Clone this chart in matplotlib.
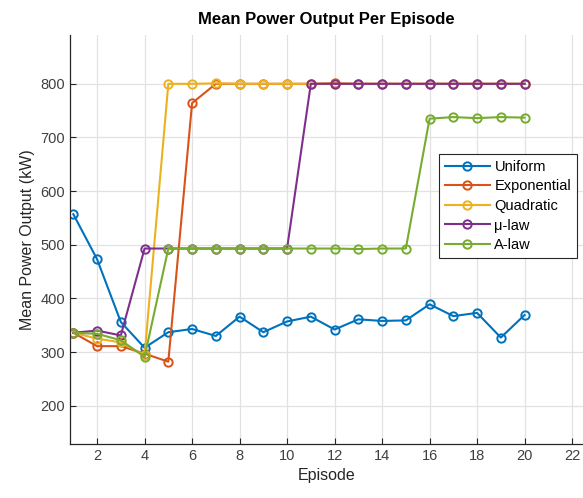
import numpy as np
import matplotlib
matplotlib.use("Agg")
import matplotlib.pyplot as plt

plt.rcParams['font.family'] = ['Liberation Sans', 'DejaVu Sans']

# mean power output (kW) for each quantisation scheme, episodes 1..20
episodes = list(range(1, 21))
uniform = [557, 473, 356, 308, 337, 343, 330, 366, 337, 357,
           366, 342, 361, 358, 359, 389, 367, 373, 327, 369]
exponential = [336, 311, 311, 297, 282, 764, 800, 800, 800, 800,
               800, 801, 800, 800, 800, 800, 800, 800, 800, 800]
quadratic = [336, 325, 318, 294, 800, 800, 801, 800, 800, 800,
             800, 800, 800, 800, 800, 800, 800, 800, 800, 800]
mu_law = [336, 340, 331, 493, 493, 493, 493, 493, 493, 493,
          800, 800, 800, 800, 800, 800, 800, 800, 800, 800]
a_law = [336, 334, 322, 291, 493, 493, 493, 493, 493, 493,
         493, 493, 492, 493, 493, 735, 738, 736, 738, 737]

names = ["Uniform", "Exponential", "Quadratic", "\u03bc-law", "A-law"]
colors = ["#0072BD", "#D95319", "#EDB120", "#7E2F8E", "#77AC30"]
series = [uniform, exponential, quadratic, mu_law, a_law]

fig = plt.figure(figsize=(5.83, 4.98), dpi=100)
ax = fig.add_axes([70 / 583, 1 - 444 / 498, 513 / 583, 409 / 498])

for vals, name, c in zip(series, names, colors):
    ax.plot(episodes, vals, color=c, lw=1.5, marker='o', ms=6,
            mfc='none', mew=1.4, label=name)

ax.set_xlim(0.86, 22.46)
ax.set_ylim(128.6, 891)
ax.set_xticks(np.arange(2, 23, 2))
ax.set_yticks(np.arange(200, 801, 100))
ax.grid(True, color='#e2e2e2', lw=0.9)
ax.set_axisbelow(True)
for s in ['top', 'right']:
    ax.spines[s].set_visible(False)
for s in ['left', 'bottom']:
    ax.spines[s].set_color('#262626')
    ax.spines[s].set_linewidth(0.9)
ax.tick_params(direction='in', length=4, width=0.8, colors='#262626',
               labelsize=10.5, labelcolor='#404040')

ax.set_xlabel("Episode", fontsize=11.5, color='#262626')
ax.set_ylabel("Mean Power Output (kW)", fontsize=11.5, color='#262626')
ax.set_title("Mean Power Output Per Episode", fontsize=12,
             fontweight='bold', pad=8)

leg = ax.legend(loc='upper right', bbox_to_anchor=(0.994, 0.716),
                fontsize=10.5, fancybox=False, framealpha=1,
                edgecolor='#262626', handlelength=3.1, borderpad=0.4,
                labelspacing=0.38, handletextpad=0.3, borderaxespad=0.2)
leg.get_frame().set_linewidth(0.8)

fig.savefig("out.png", dpi=100)
